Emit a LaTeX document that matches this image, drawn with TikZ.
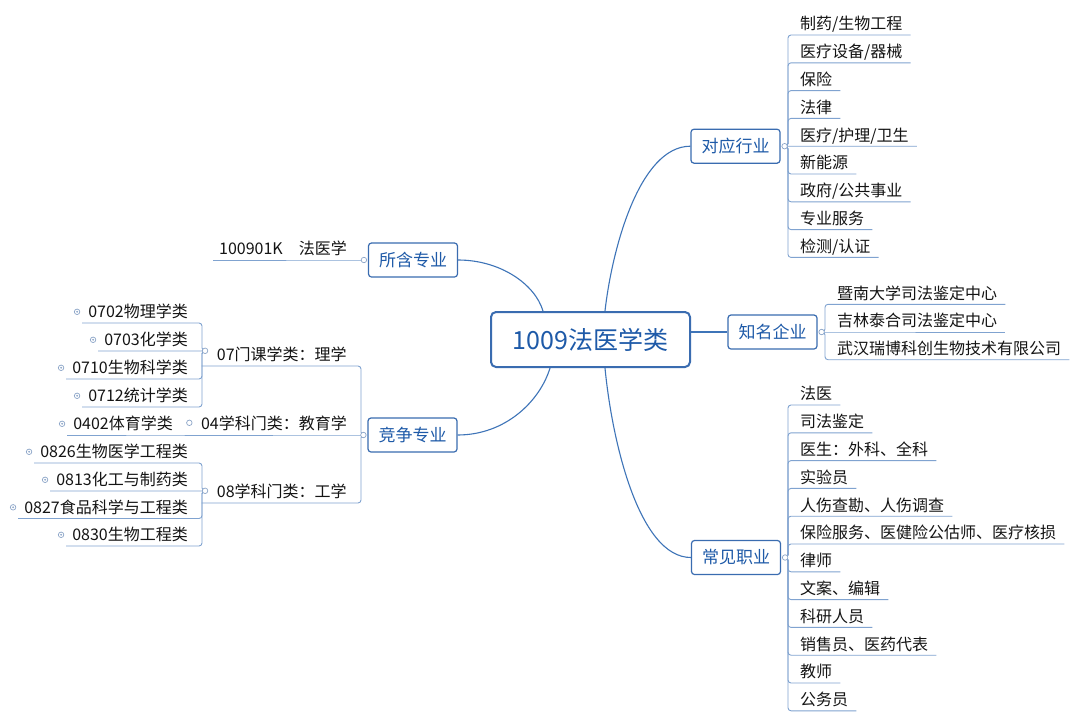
\documentclass[tikz,border=0pt]{standalone}
\usepackage{fontspec}
\newfontfamily\cjk{Noto Sans CJK SC}
\usetikzlibrary{calc}
\definecolor{boxblue}{RGB}{58,108,176}
\definecolor{txtblue}{RGB}{30,90,168}
\definecolor{curveblue}{RGB}{62,116,184}
\definecolor{leafblue}{RGB}{128,163,208}
\definecolor{dotgrey}{RGB}{140,165,200}
\definecolor{leaftext}{RGB}{20,20,20}
\tikzset{
  topbox/.style={draw=boxblue, line width=1.2pt, rounded corners=3pt, fill=white, text=txtblue,
    font=\cjk\fontsize{17pt}{20pt}\selectfont, minimum width=89pt, minimum height=34pt, inner sep=0pt},
  rootbox/.style={draw=boxblue, line width=2pt, rounded corners=5pt, fill=white, text=txtblue,
    font=\cjk\fontsize{25pt}{30pt}\selectfont, minimum width=199pt, minimum height=55pt, inner sep=0pt},
  leaf/.style={inner xsep=0pt, inner ysep=5pt, text height=12pt, text depth=0pt,
    font=\cjk\fontsize{16pt}{19pt}\selectfont, text=leaftext},
  rleaf/.style={leaf, anchor=south west, execute at begin node={\hspace*{12pt}}, execute at end node={\hspace*{8pt}}},
  lleaf/.style={leaf, anchor=south east, execute at begin node={\hspace*{6pt}}, execute at end node={\hspace*{14pt}}},
  lmid/.style={leaf, anchor=south east, execute at begin node={\hspace*{15pt}}, execute at end node={\hspace*{14pt}}},
  curve/.style={draw=curveblue, line width=1.1pt},
  branch/.style={draw=leafblue, line width=0.9pt, rounded corners=3pt},
  opendot/.style={circle, draw=dotgrey, fill=white, line width=0.7pt, minimum size=5.5pt, inner sep=0pt},
  closeddot/.style={opendot, path picture={\fill[dotgrey] (path picture bounding box.center) circle (1pt);}},
}
\begin{document}
\begin{tikzpicture}[x=1pt,y=-1pt]
\useasboundingbox (0,0) rectangle (1080,721);
\fill[white] (0,0) rectangle (1080,721);

% main boxes
\node[rootbox] (root) at (590.5,339.5) {1009法医学类};
\node[topbox] (dy) at (735.5,146.2) {对应行业};
\node[topbox] (zm) at (772.5,332) {知名企业};
\node[topbox] (cz) at (736,557.5) {常见职业};
\node[topbox] (sh) at (413,260) {所含专业};
\node[topbox] (jz) at (412.5,435) {竞争专业};

% main curves
\draw[curve] ($(root.north)+(14.5,0)$) .. controls ($(root.north)+(21.5,-62)$) and ($(dy.west)+(-51,0)$) .. (dy.west);
\draw[curve] ($(root.south)+(14.5,0)$) .. controls ($(root.south)+(21.5,73)$) and ($(cz.west)+(-52,0)$) .. (cz.west);
\draw[curve] (sh.east) .. controls ($(sh.east)+(42,0)$) and ($(root.north)+(-55.5,-27)$) .. ($(root.north)+(-47.5,0)$);
\draw[curve] (jz.east) .. controls ($(jz.east)+(48,0)$) and ($(root.south)+(-50.5,33)$) .. ($(root.south)+(-40.5,0)$);
\draw[curve] (root.east |- zm.west) -- (zm.west);

% junction points
\coordinate (dyc) at ([xshift=4pt]dy.east);
\coordinate (zmc) at ([xshift=4pt]zm.east);
\coordinate (czc) at ([xshift=4pt]cz.east);
\coordinate (shc) at ([xshift=-4pt]sh.west);
\coordinate (jzc) at ([xshift=-4pt]jz.west);

% 对应行业
\foreach \t [count=\i from 0] in {制药/生物工程,医疗设备/器械,保险,法律,医疗/护理/卫生,新能源,政府/公共事业,专业服务,检测/认证}{
  \node[rleaf] (dy-\i) at (788,{35+27.8*\i}) {\t};
}
\foreach \i in {0,1,2,3,5,6,7,8}{
  \draw[branch] (dyc) -| (dy-\i.south west) -- (dy-\i.south east);
}
\draw[branch] (dyc) -- (dy-4.south west) -- (dy-4.south east);

% 知名企业
\foreach \t [count=\i from 0] in {暨南大学司法鉴定中心,吉林泰合司法鉴定中心,武汉瑞博科创生物技术有限公司}{
  \node[rleaf] (zm-\i) at (825,{304.3+27.7*\i}) {\t};
}
\foreach \i in {0,2}{
  \draw[branch] (zmc) -| (zm-\i.south west) -- (zm-\i.south east);
}
\draw[branch] (zmc) -- (zm-1.south west) -- (zm-1.south east);

% 常见职业
\foreach \t [count=\i from 0] in {法医,司法鉴定,医生：外科、全科,实验员,人伤查勘、人伤调查,保险服务、医健险公估师、医疗核损,律师,文案、编辑,科研人员,销售员、医药代表,教师,公务员}{
  \node[rleaf] (cz-\i) at (788,{405+27.8*\i}) {\t};
  \draw[branch] (czc) -| (cz-\i.south west) -- (cz-\i.south east);
}

% 所含专业
\node[lleaf] (sh-0) at (361,260) {100901K\hspace{1em}法医学};
\draw[branch] (shc) -- (sh-0.south east) -- (sh-0.south west);

% 竞争专业
\node[lmid, minimum width=159pt] (n07) at (361,366) {07门课学类：理学};
\node[lmid, minimum width=174pt] (n04) at (361,435) {04学科门类：教育学};
\node[lmid, minimum width=159pt] (n08) at (361,503) {08学科门类：工学};
\draw[branch] (jzc) -| (n07.south east) -- (n07.south west);
\draw[branch] (jzc) -- (n04.south east) -- (n04.south west);
\draw[branch] (jzc) -| (n08.south east) -- (n08.south west);

\coordinate (c07) at ([xshift=3.5pt,yshift=4pt]n07.west);
\coordinate (c04) at ([xshift=3.5pt,yshift=1pt]n04.west);
\coordinate (c08) at ([xshift=3.5pt,yshift=1pt]n08.west);

\foreach \t/\y [count=\i from 0] in {0702物理学类/323,0703化学类/351,0710生物科学类/379,0712统计学类/407}{
  \node[lleaf] (g07-\i) at (202,\y) {\t};
}
\foreach \i in {0,2,3}{
  \draw[branch] (c07) -| (g07-\i.south east) -- (g07-\i.south west);
}
\draw[branch] (c07) -- (g07-1.south east) -- (g07-1.south west);

\node[lleaf] (g04-0) at (187,435) {0402体育学类};
\draw[branch] (n04.south west) -- (g04-0.south east) -- (g04-0.south west);

\foreach \t/\y [count=\i from 0] in {0826生物医学工程类/463,0813化工与制药类/491,0827食品科学与工程类/518.5,0830生物工程类/546}{
  \node[lleaf] (g08-\i) at (202,\y) {\t};
}
\foreach \i in {0,2,3}{
  \draw[branch] (c08) -| (g08-\i.south east) -- (g08-\i.south west);
}
\draw[branch] (c08) -- (g08-1.south east) -- (g08-1.south west);

% expand / collapse markers
\node[opendot] (dyc-m) at (dyc) {};
\node[opendot] (zmc-m) at (zmc) {};
\node[opendot] (czc-m) at (czc) {};
\node[opendot] (shc-m) at (shc) {};
\node[opendot] (jzc-m) at (jzc) {};
\node[opendot] (c07-m) at (c07) {};
\node[opendot] (c04-m) at (c04) {};
\node[opendot] (c08-m) at (c08) {};
\foreach \i in {0,1,2,3}{
  \node[closeddot] (g07m-\i) at ([xshift=-5pt]g07-\i.west) {};
  \node[closeddot] (g08m-\i) at ([xshift=-5pt]g08-\i.west) {};
}
\node[closeddot] (g04m-0) at ([xshift=-5pt]g04-0.west) {};
\end{tikzpicture}
\end{document}
